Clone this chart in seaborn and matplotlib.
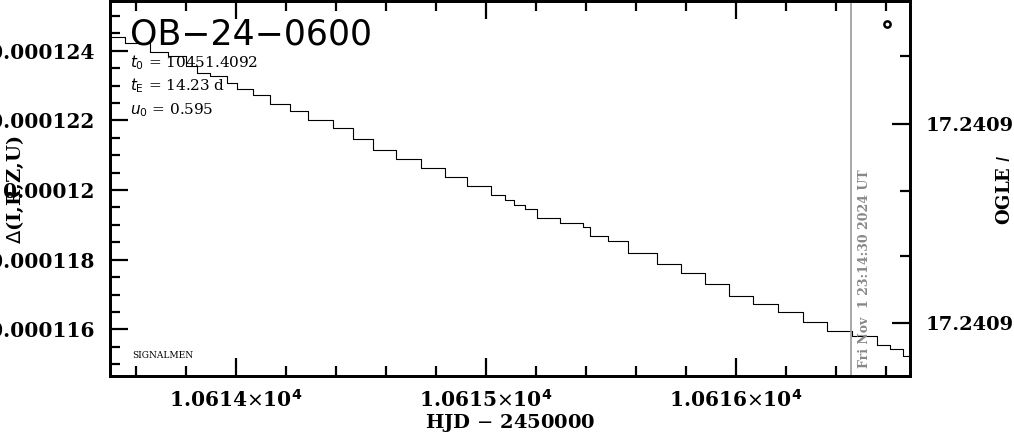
import numpy as np
import pandas as pd
import matplotlib
matplotlib.use("Agg")
import matplotlib.pyplot as plt
import matplotlib.ticker as mticker
import seaborn as sns

# step light curve (HJD-2450000, flux ratio)
hjd = [10613.496, 10613.556, 10613.656, 10613.728, 10613.800, 10613.844, 10613.896,
       10613.964, 10614.004, 10614.068, 10614.136, 10614.216, 10614.288, 10614.388,
       10614.468, 10614.548, 10614.640, 10614.740, 10614.836, 10614.924, 10615.020,
       10615.076, 10615.112, 10615.156, 10615.204, 10615.296, 10615.388, 10615.416,
       10615.488, 10615.568, 10615.684, 10615.780, 10615.876, 10615.972, 10616.068,
       10616.168, 10616.268, 10616.364, 10616.464, 10616.564, 10616.616, 10616.668,
       10616.696]
delta = [124.400, 124.229, 123.971, 123.857, 123.571, 123.371, 123.286,
         123.086, 122.914, 122.743, 122.486, 122.257, 122.000, 121.771,
         121.457, 121.143, 120.886, 120.629, 120.371, 120.114, 119.857,
         119.714, 119.571, 119.457, 119.200, 119.057, 118.943, 118.686,
         118.543, 118.200, 117.886, 117.629, 117.314, 116.971, 116.714,
         116.486, 116.200, 115.943, 115.800, 115.543, 115.429, 115.229,
         115.086]
delta = [d * 1e-6 for d in delta]

event = "OB-24-0600"
t0 = "10451.4092"
tE = "14.23"
u0 = "0.595"
stamp = "Fri Nov  1 23:14:30 2024 UT"
now_hjd = 10616.46
x_ticks = [10614, 10615, 10616]
y_ticks = [0.000116, 0.000118, 0.000120, 0.000122, 0.000124]
mag_ticks = [17.24086, 17.24094]

df = pd.DataFrame({"hjd": hjd, "delta": delta})

sns.set_style("ticks", rc={"axes.edgecolor": "black", "xtick.color": "black",
                           "ytick.color": "black", "text.color": "black",
                           "axes.labelcolor": "black"})
plt.rcParams["font.family"] = ["DejaVu Serif"]

fig = plt.figure(figsize=(10.14, 4.34), dpi=100)
ax = fig.add_axes([110 / 1014, 58 / 434, 800 / 1014, 375 / 434])

sns.lineplot(data=df, x="hjd", y="delta", ax=ax, color="black", lw=0.8,
             drawstyle="steps-post", estimator=None, sort=False)
ax.axvline(now_hjd, color="#999999", lw=1.2)
ax.plot([10616.604], [124.771e-6], "o", ms=4.5, mfc="white", mec="black", mew=1.8)

ax.set_xlim(10613.496, 10616.696)
ax.set_ylim(114.66e-6, 125.43e-6)

ax.set_xticks(x_ticks)
ax.xaxis.set_minor_locator(mticker.MultipleLocator(0.2))
ax.xaxis.set_major_formatter(mticker.FuncFormatter(
    lambda v, p: r"%.4f$\times$10$^{\mathbf{4}}$" % (v / 1e4)))
ax.set_yticks(y_ticks)
ax.yaxis.set_minor_locator(mticker.MultipleLocator(0.5e-6))
ax.yaxis.set_major_formatter(mticker.FuncFormatter(
    lambda v, p: ("%.6f" % v).rstrip("0")))

ax.tick_params(which="both", direction="in", top=True, right=False, width=1.6,
               labelsize=14.5, pad=11)
ax.tick_params(axis="x", pad=9)
ax.tick_params(which="major", length=13)
ax.tick_params(which="minor", length=7)
for lab in ax.get_xticklabels() + ax.get_yticklabels():
    lab.set_fontweight("bold")
for s in ax.spines.values():
    s.set_linewidth(2)

ax.set_xlabel("HJD $-$ 2450000", fontsize=14, fontweight="bold", labelpad=1)
fig.text(15 / 1014, 1 - 190 / 434, r"$\Delta$(I,R,Z,U)", rotation=90,
         fontsize=14, fontweight="bold", ha="center", va="center")

# right magnitude axis
ax2 = ax.twinx()
ax2.set_ylim(17.2409612, 17.2408108)
ax2.set_yticks(mag_ticks)
ax2.set_yticks([17.240833, 17.240887, 17.240913], minor=True)
ax2.yaxis.set_major_formatter(mticker.FormatStrFormatter("%.4f"))
ax2.tick_params(which="both", direction="in", width=1.6, labelsize=14, pad=11)
ax2.tick_params(which="major", length=13)
ax2.tick_params(which="minor", length=7)
for lab in ax2.get_yticklabels():
    lab.set_fontweight("bold")
for s in ax2.spines.values():
    s.set_linewidth(2)
fig.text(1005 / 1014, 1 - 190 / 434, "OGLE $I$", rotation=90,
         fontsize=13, fontweight="bold", ha="center", va="center")

ax.text(0.025, 0.883, event.replace("-", "\u2212"), transform=ax.transAxes,
        fontsize=25, family="DejaVu Sans", va="baseline")
ax.text(0.025, 0.822, r"$t_0$ = " + t0, transform=ax.transAxes, fontsize=11, va="baseline")
ax.text(0.025, 0.761, r"$t_{\rm E}$ = " + tE + " d", transform=ax.transAxes, fontsize=11, va="baseline")
ax.text(0.025, 0.699, r"$u_0$ = " + u0, transform=ax.transAxes, fontsize=11, va="baseline")
ax.text(0.0275, 0.056, "SIGNALMEN", transform=ax.transAxes, fontsize=6.5, va="center")
ax.text(10616.49, 0.02, stamp, transform=ax.get_xaxis_transform(), rotation=90,
        fontsize=9, fontweight="bold", color="#888888", ha="left", va="bottom")

fig.savefig("out.png", dpi=100)
